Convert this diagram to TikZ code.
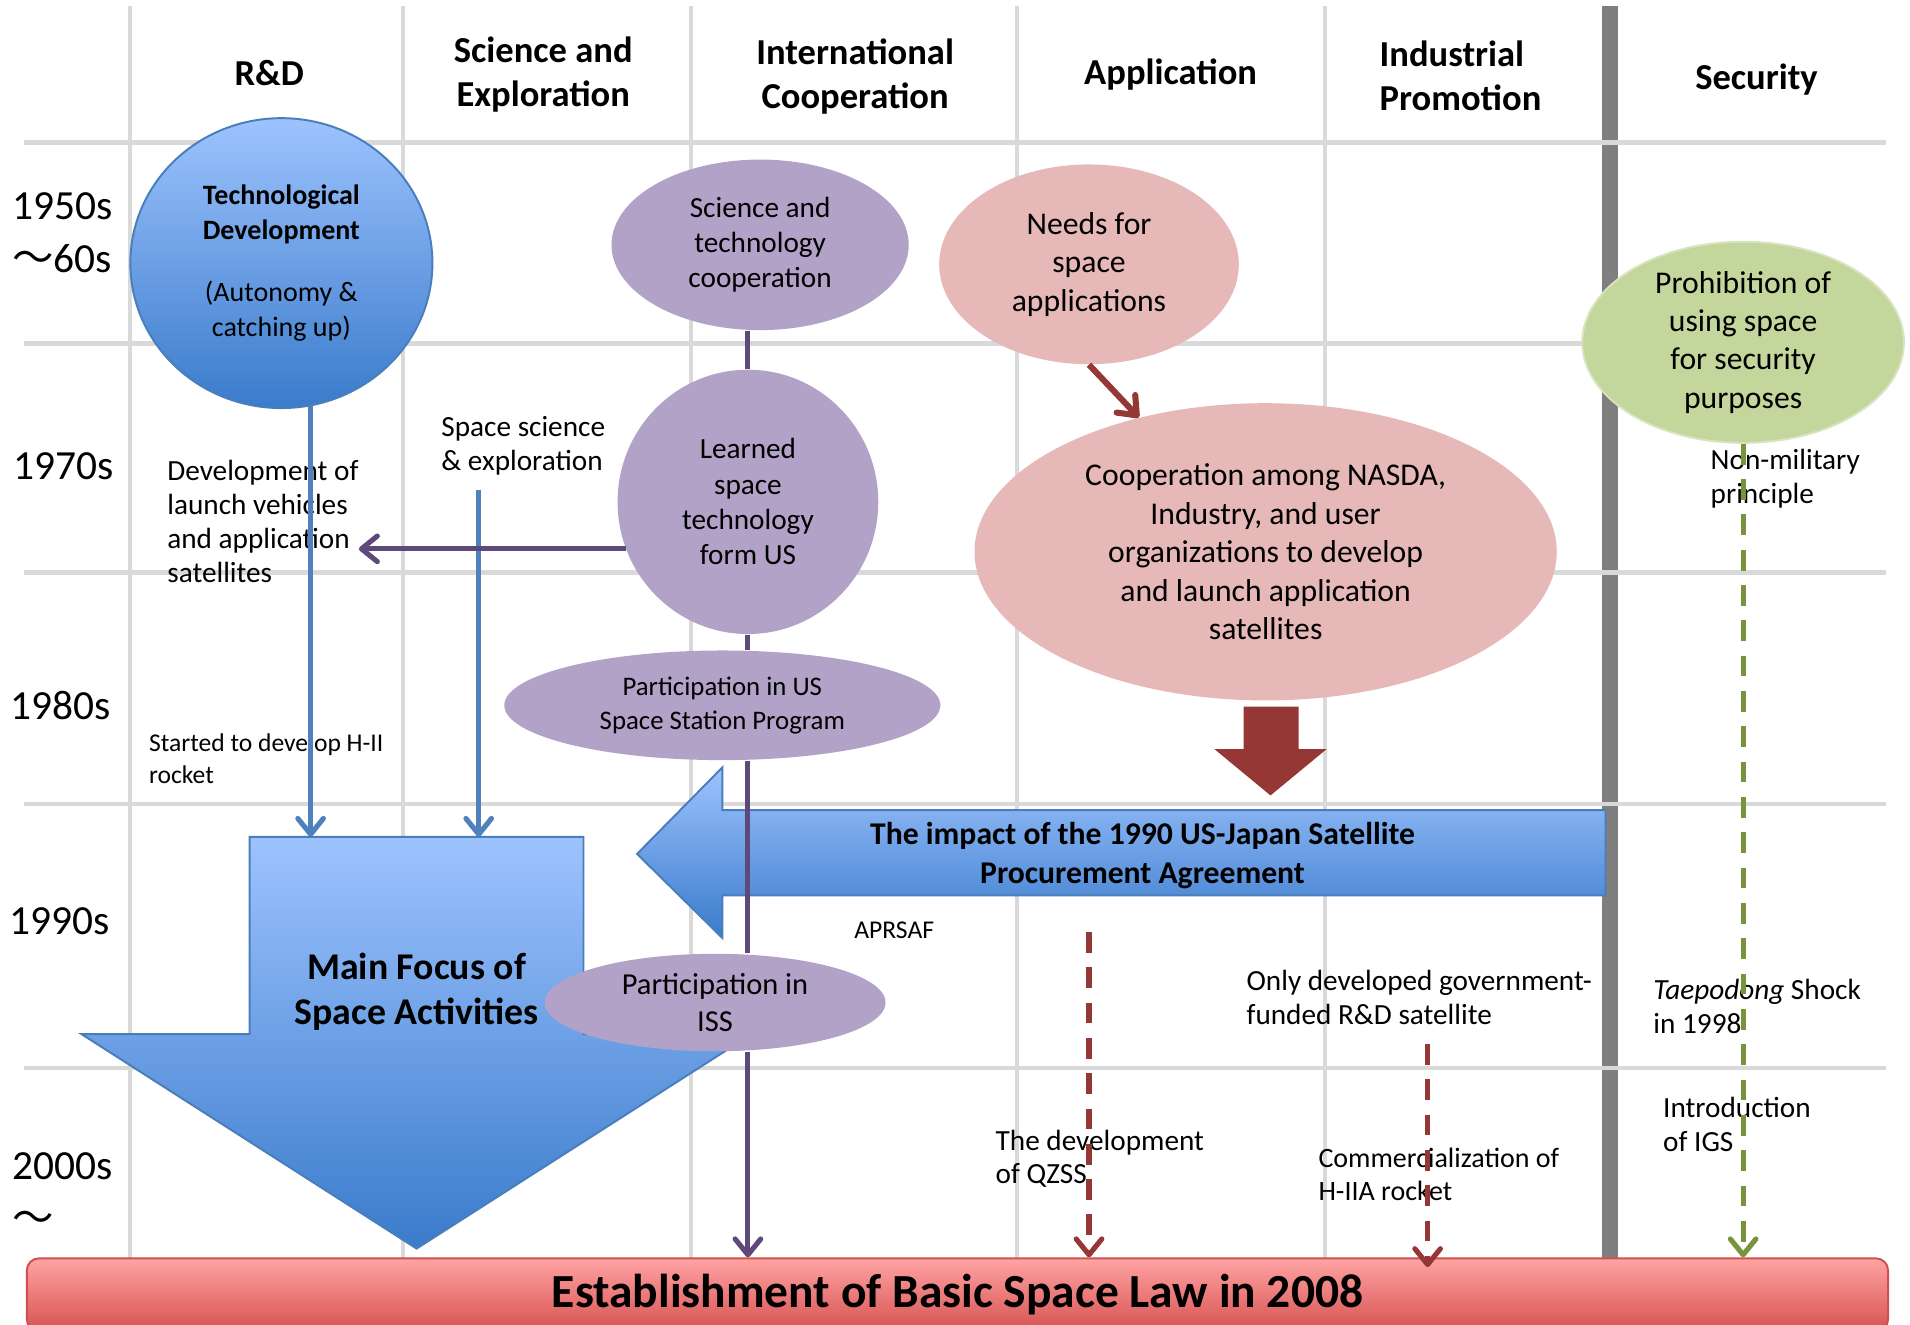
\documentclass[tikz,border=0pt]{standalone}
\usepackage{fontspec}
\setmainfont{Carlito}
\newfontfamily\cjk{Noto Sans CJK JP}
\usetikzlibrary{arrows.meta,positioning,shapes.geometric}
\definecolor{GridGray}{HTML}{D9D9D9}
\definecolor{BarGray}{HTML}{7F7F7F}
\definecolor{SkyTop}{HTML}{9DC3FE}
\definecolor{SkyBot}{HTML}{3A7BCB}
\definecolor{SkyEdge}{HTML}{4A7EBB}
\definecolor{SkyLine}{HTML}{4F81BD}
\definecolor{Lilac}{HTML}{B3A2C7}
\definecolor{PlumLine}{HTML}{5F497A}
\definecolor{Blush}{HTML}{E6B9B8}
\definecolor{Brick}{HTML}{953735}
\definecolor{Sage}{HTML}{C3D69B}
\definecolor{SageEdge}{HTML}{D7E4BD}
\definecolor{Olive}{HTML}{77933C}
\definecolor{LawTop}{HTML}{FFA3A3}
\definecolor{LawBot}{HTML}{D65250}
\definecolor{LawEdge}{HTML}{D0504D}

\begin{document}
\begin{tikzpicture}[x=0.5pt,y=-0.5pt,
    grid/.style={draw=GridGray,line width=1.7pt},
    head/.style={font=\fontsize{15}{18}\selectfont\bfseries,align=center},
    decade/.style={font=\fontsize{17}{21.5}\selectfont,align=center},
    note/.style={font=\fontsize{12}{14}\selectfont,align=left,anchor=west,inner sep=0pt},
    blob/.style={ellipse,inner sep=0pt,align=center,font=\fontsize{12}{14.5}\selectfont},
    lilac/.style={blob,fill=Lilac},
    blush/.style={blob,fill=Blush,font=\fontsize{13}{15.75}\selectfont},
    sky/.style={top color=SkyTop,bottom color=SkyBot,draw=SkyEdge,line width=0.8pt},
    openhead/.style={-{Straight Barb[length=6.5pt,width=10.5pt,round]}},
    bluearr/.style={draw=SkyLine,line width=2.1pt,openhead},
    plumline/.style={draw=PlumLine,line width=2.1pt},
    brickarr/.style={draw=Brick,line width=2.5pt,openhead},
    brickdash/.style={draw=Brick,line width=2.1pt,openhead,dash pattern=on 8.5pt off 6pt},
    olivedash/.style={draw=Olive,line width=2.1pt,openhead,dash pattern=on 8.5pt off 6pt},
    law/.style={rounded corners=5pt,minimum width=764pt,minimum height=30pt,
      top color=LawTop,bottom color=LawBot,draw=LawEdge,line width=0.8pt,
      font=\fontsize{19.5}{22}\selectfont\bfseries}
  ]
    \useasboundingbox (0,0) rectangle (1568,1087);
    \clip (0,0) rectangle (1568,1087);
    \fill[white] (0,0) rectangle (1568,1087);

    \foreach \gx in {107,331,567,835,1088}
      \draw[grid] (\gx,5) -- (\gx,1033);
    \draw[BarGray,line width=6.5pt] (1321.5,5) -- (1321.5,1033);
    \foreach \gy in {117,282,470,660,877}
      \draw[grid] (20,\gy) -- (1548,\gy);

    \node[head] (hRD) at (221,60) {R\&D};
    \node[head] (hSci) at (446,61) {Science and\\Exploration};
    \node[head] (hInt) at (702,63) {International\\Cooperation};
    \node[head] (hApp) at (961,61) {Application};
    \node[head,align=left] (hInd) at (1199,62) {Industrial\\Promotion};
    \node[head] (hSec) at (1442,65) {Security};

    \node[decade] (d50) at (51,191) {1950s\\{\cjk ～}60s};
    \node[decade] (d70) at (52,383) {1970s};
    \node[decade] (d80) at (50,579) {1980s};
    \node[decade] (d90) at (49,756) {1990s};
    \node[decade,align=left] (d00) at (51,979) {2000s\\{\cjk ～}};

    \path[sky] (205,687) -- (479,687) -- (479,849) -- (617,849) -- (342,1025)
      -- (67,849) -- (205,849) -- cycle;
    \node[font=\fontsize{15.5}{18.5}\selectfont\bfseries,align=center] (focus) at (342,814)
      {Main Focus of\\Space Activities};
    \path[sky] (1318,665) -- (593,665) -- (593,630) -- (523,701) -- (593,770)
      -- (593,735) -- (1318,735) -- cycle;
    \node[font=\fontsize{13}{16}\selectfont\bfseries,align=center] (impact) at (938,702)
      {The impact of the 1990 US-Japan Satellite\\Procurement Agreement};
    \fill[Brick] (1021,580) -- (1066,580) -- (1066,615) -- (1089,615) -- (1043,653)
      -- (997,615) -- (1021,615) -- cycle;

    \node[blob,sky,font=\fontsize{11.5}{14.5}\selectfont,minimum width=124pt,minimum height=119pt]
      (tech) at (231,216)
      {\textbf{Technological}\\\textbf{Development}\\[11pt](Autonomy \&\\catching up)};
    \node[lilac,minimum width=122pt,minimum height=70pt] (sci) at (624,201)
      {Science and\\technology\\cooperation};
    \node[lilac,minimum width=107pt,minimum height=108.5pt] (learned) at (614,412)
      {Learned\\space\\technology\\form US};
    \node[lilac,font=\fontsize{11}{14}\selectfont,minimum width=179pt,minimum height=45pt]
      (ussp) at (593,579) {Participation in US\\Space Station Program};
    \node[lilac,font=\fontsize{12.5}{15.5}\selectfont,minimum width=140pt,minimum height=40pt]
      (iss) at (587,823) {Participation in\\ISS};
    \node[blush,minimum width=123pt,minimum height=82pt] (needs) at (894,217)
      {Needs for\\space\\applications};
    \node[blush,minimum width=239pt,minimum height=122pt] (coop) at (1039,453)
      {Cooperation among NASDA,\\Industry, and user\\organizations to develop\\and launch application\\satellites};
    \node[blob,fill=Sage,draw=SageEdge,line width=0.8pt,font=\fontsize{13}{15.75}\selectfont,
      minimum width=132pt,minimum height=82pt] (green) at (1431,281)
      {Prohibition of\\using space\\for security\\purposes};

    \node[note] (devtxt) at (137,428) {Development of\\launch vehicles\\and application\\satellites};
    \node[note] (spacetxt) at (362,366) {Space science\\\& exploration};
    \node[note,font=\fontsize{10.5}{13}\selectfont] (h2txt) at (122,623) {Started to develop H-II\\rocket};
    \node[note,font=\fontsize{10.5}{13}\selectfont] (aprsaf) at (701,764) {APRSAF};
    \node[note] (onlytxt) at (1023,819) {Only developed government-\\funded R\&D satellite};
    \node[note,font=\fontsize{12}{13.5}\selectfont] (qzsstxt) at (817,951) {The development\\of QZSS};
    \node[note,font=\fontsize{11.5}{13.5}\selectfont] (h2atxt) at (1082,964) {Commercialization of\\H-IIA rocket};
    \node[note] (nonmil) at (1404,393) {Non-military\\principle};
    \node[note] (taepo) at (1357,826) {\textit{Taepodong} Shock\\in 1998};
    \node[note] (igs) at (1365,923) {Introduction\\of IGS};
    \node[font=\fontsize{12}{14}\selectfont,text=black!35] (page) at (1470,1043) {4};

    \node[law] (law) at (786,1063) {Establishment of Basic Space Law in 2008};

    \coordinate (focusL) at (255,687);
    \coordinate (focusR) at (393,687);
    \coordinate (sciLine) at (393,402);
    \coordinate (qzssTop) at (894,765);
    \coordinate (h2aTop) at (1172,857);

    \draw[bluearr,shorten <=-1.5pt] (tech.south -| focusL) -- (focusL);
    \draw[bluearr] (sciLine) -- (focusR);
    \draw[plumline] (learned.north |- sci.south) -- (learned.north);
    \draw[plumline] (learned.south) -- (learned.south |- ussp.north);
    \draw[plumline] (ussp.south -| learned) -- (iss.north -| learned);
    \draw[plumline,openhead] (iss.south -| learned) -- (law.north -| learned);
    \draw[plumline,openhead] (learned.201.5) -- (devtxt.east |- learned.201.5);
    \draw[brickarr] (needs.south) -- (coop);
    \draw[olivedash] (green.south) -- (green.south |- law.north);
    \draw[brickdash] (qzssTop) -- (qzssTop |- law.north);
    \draw[brickdash] (h2aTop) -- ([yshift=-4pt]h2aTop |- law.north);
  \end{tikzpicture}
\end{document}
